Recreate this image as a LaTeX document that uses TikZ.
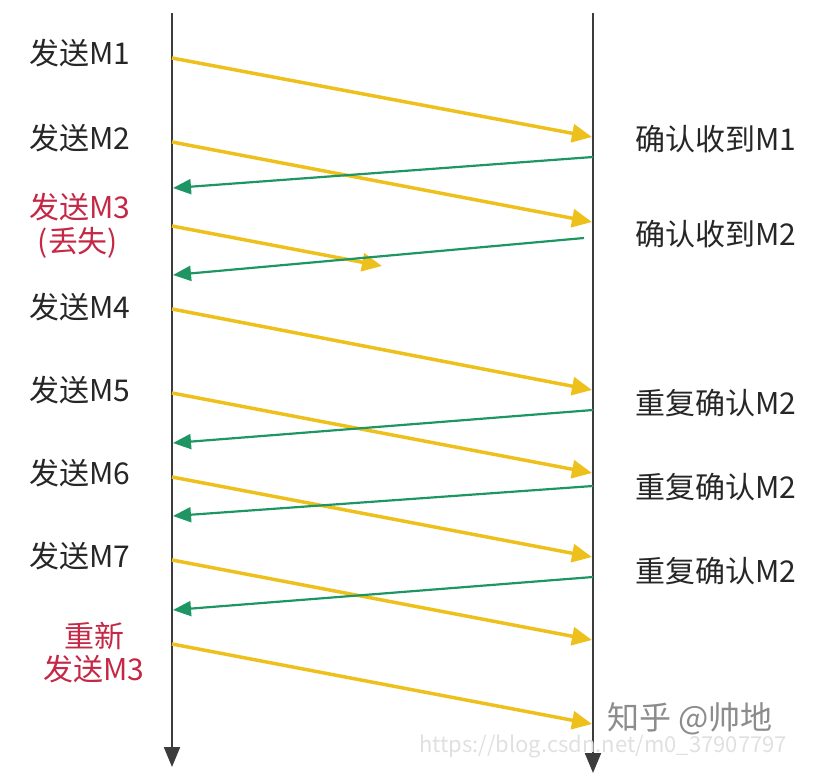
\documentclass[tikz,border=0pt]{standalone}
\usepackage{fontspec}
\setmainfont{Noto Sans CJK SC}
\usetikzlibrary{arrows.meta}
\definecolor{ylw}{RGB}{238,192,28}
\definecolor{grn}{RGB}{30,150,100}
\definecolor{axis}{RGB}{60,60,60}
\definecolor{redtxt}{RGB}{196,40,70}
\begin{document}
\begin{tikzpicture}[x=1pt,y=-1pt,
  lbl/.style={font=\fontsize{30}{34}\selectfont, text=black!85, inner sep=0pt},
  redlbl/.style={lbl, text=redtxt},
  send/.style={draw=ylw, line width=3.5pt, -{Triangle[length=20pt,width=18pt]}},
  ack/.style={draw=grn, line width=2.2pt, -{Triangle[length=18pt,width=15pt]}},
  timeline/.style={draw=axis, line width=2.2pt, -{Triangle[length=20pt,width=16pt]}}]
\useasboundingbox (0,0) rectangle (831,784);
% timelines
\coordinate (Ltop) at (172,13);
\coordinate (Lbot) at (172,767);
\coordinate (Rtop) at (593,13);
\coordinate (Rbot) at (593,773);
\draw[timeline] (Ltop) -- (Lbot);
\draw[timeline] (Rtop) -- (Rbot);
% sends
\coordinate (s1) at (172,58);  \coordinate (e1) at (592,137);
\coordinate (s2) at (172,142); \coordinate (e2) at (592,222);
\coordinate (s3) at (172,226); \coordinate (e3) at (382,266);
\coordinate (s4) at (172,309); \coordinate (e4) at (592,390);
\coordinate (s5) at (172,393); \coordinate (e5) at (592,473);
\coordinate (s6) at (172,477); \coordinate (e6) at (592,557);
\coordinate (s7) at (172,560); \coordinate (e7) at (592,640);
\coordinate (s8) at (172,644); \coordinate (e8) at (592,724);
\foreach \i in {1,...,8} \draw[send] (s\i) -- (e\i);
% acks
\coordinate (a1) at (593,157); \coordinate (b1) at (173,188);
\coordinate (a2) at (584,238); \coordinate (b2) at (173,275);
\coordinate (a3) at (593,410); \coordinate (b3) at (173,443);
\coordinate (a4) at (593,486); \coordinate (b4) at (173,516);
\coordinate (a5) at (593,577); \coordinate (b5) at (173,610);
\foreach \i in {1,...,5} \draw[ack] (a\i) -- (b\i);
% left labels
\node[lbl] (t1) at (80,53) {发送M1};
\node[lbl] (t2) at (80,138) {发送M2};
\node[redlbl] (t3) at (80,207) {发送M3};
\node[redlbl] (t3b) at (78,243) {(丢失)};
\node[lbl] (t4) at (80,307) {发送M4};
\node[lbl] (t5) at (80,390) {发送M5};
\node[lbl] (t6) at (80,473) {发送M6};
\node[lbl] (t7) at (80,556) {发送M7};
\node[redlbl] (t8a) at (94,636) {重新};
\node[redlbl] (t8b) at (94,669) {发送M3};
% right labels
\node[lbl] (r1) at (716,139) {确认收到M1};
\node[lbl] (r2) at (716,234) {确认收到M2};
\node[lbl] (r3) at (716,403) {重复确认M2};
\node[lbl] (r4) at (716,487) {重复确认M2};
\node[lbl] (r5) at (716,571) {重复确认M2};
% watermarks
\node[inner sep=0pt, text=black!45, font=\fontsize{32}{36}\selectfont] (w1) at (690,719) {知乎 @帅地};
\node[inner sep=0pt, text=black!12, font=\fontsize{22}{26}\selectfont] (w2) at (603,746) {https://blog.csdn.net/m0\_37907797};
\end{tikzpicture}
\end{document}
